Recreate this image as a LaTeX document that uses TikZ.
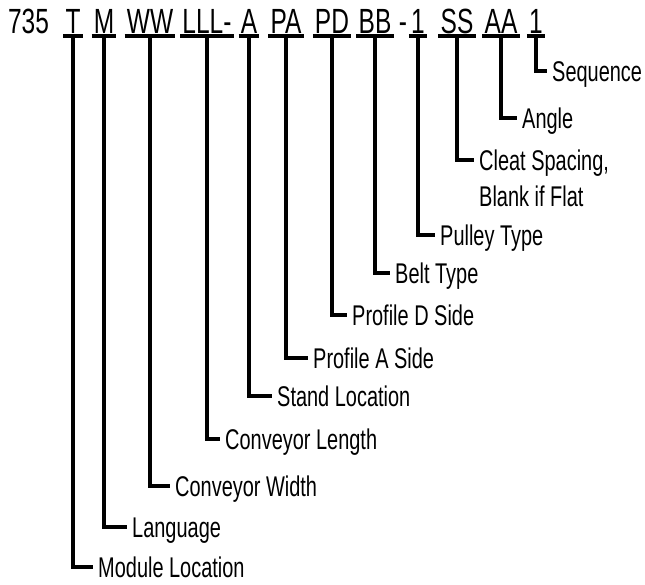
\documentclass[tikz,border=0pt]{standalone}
\usepackage{fontspec}
\setmainfont{Liberation Sans}[FakeStretch=0.7]
\usepackage{tikz}

\begin{document}
\begin{tikzpicture}[x=1pt,y=-1pt,
    code/.style={font=\fontsize{35pt}{40pt}\selectfont, anchor=base,
      inner xsep=2pt, inner ysep=2.5pt, text height=25pt, text depth=0pt},
    lbl/.style={font=\fontsize{28.5pt}{34pt}\selectfont, anchor=west,
      inner xsep=5pt, inner ysep=0pt, text height=20.4pt, text depth=0pt},
    uline/.style={line width=4pt},
    stem/.style={line width=4.5pt}]

  \useasboundingbox (0,0) rectangle (645,584);

  % --- fixed prefix and loose dash ---------------------------------
  \node[code] (num) at (28.5,33) {735};
  \node[code] (dsh) at (403,33) {-};

  % --- code letters, underlines and their call-outs -----------------
  \foreach \nm/\cx/\code/\lx/\ly/\lab in {
      mod/73/T/93/567/Module Location,
      lang/104/M/127/527/Language,
      wid/150/WW/170/486/Conveyor Width,
      len/207/LLL-/220/439/Conveyor Length,
      stand/249/A/272/396/Stand Location,
      pa/286/PA/308/358/Profile A Side,
      pd/332/PD/347/315/Profile D Side,
      belt/375/BB/390/273/Belt Type,
      pul/418/1/435/235/Pulley Type,
      cleat/457/SS/474/160/{Cleat Spacing,},
      ang/501/AA/517/118/Angle,
      seq/536/1/547/71/Sequence}
  {
    \node[code] (c\nm) at (\cx,33) {\code};
    \node[lbl] (l\nm) at (\lx,\ly) {\lab};
    \draw[uline] (c\nm.south west) -- (c\nm.south east);
    \draw[stem] (c\nm.south) |- (l\nm.west);
  }

  % second line of the cleat note
  \node[lbl] (lblank) at ([yshift=-36pt]lcleat.west) {Blank if Flat};

\end{tikzpicture}
\end{document}
